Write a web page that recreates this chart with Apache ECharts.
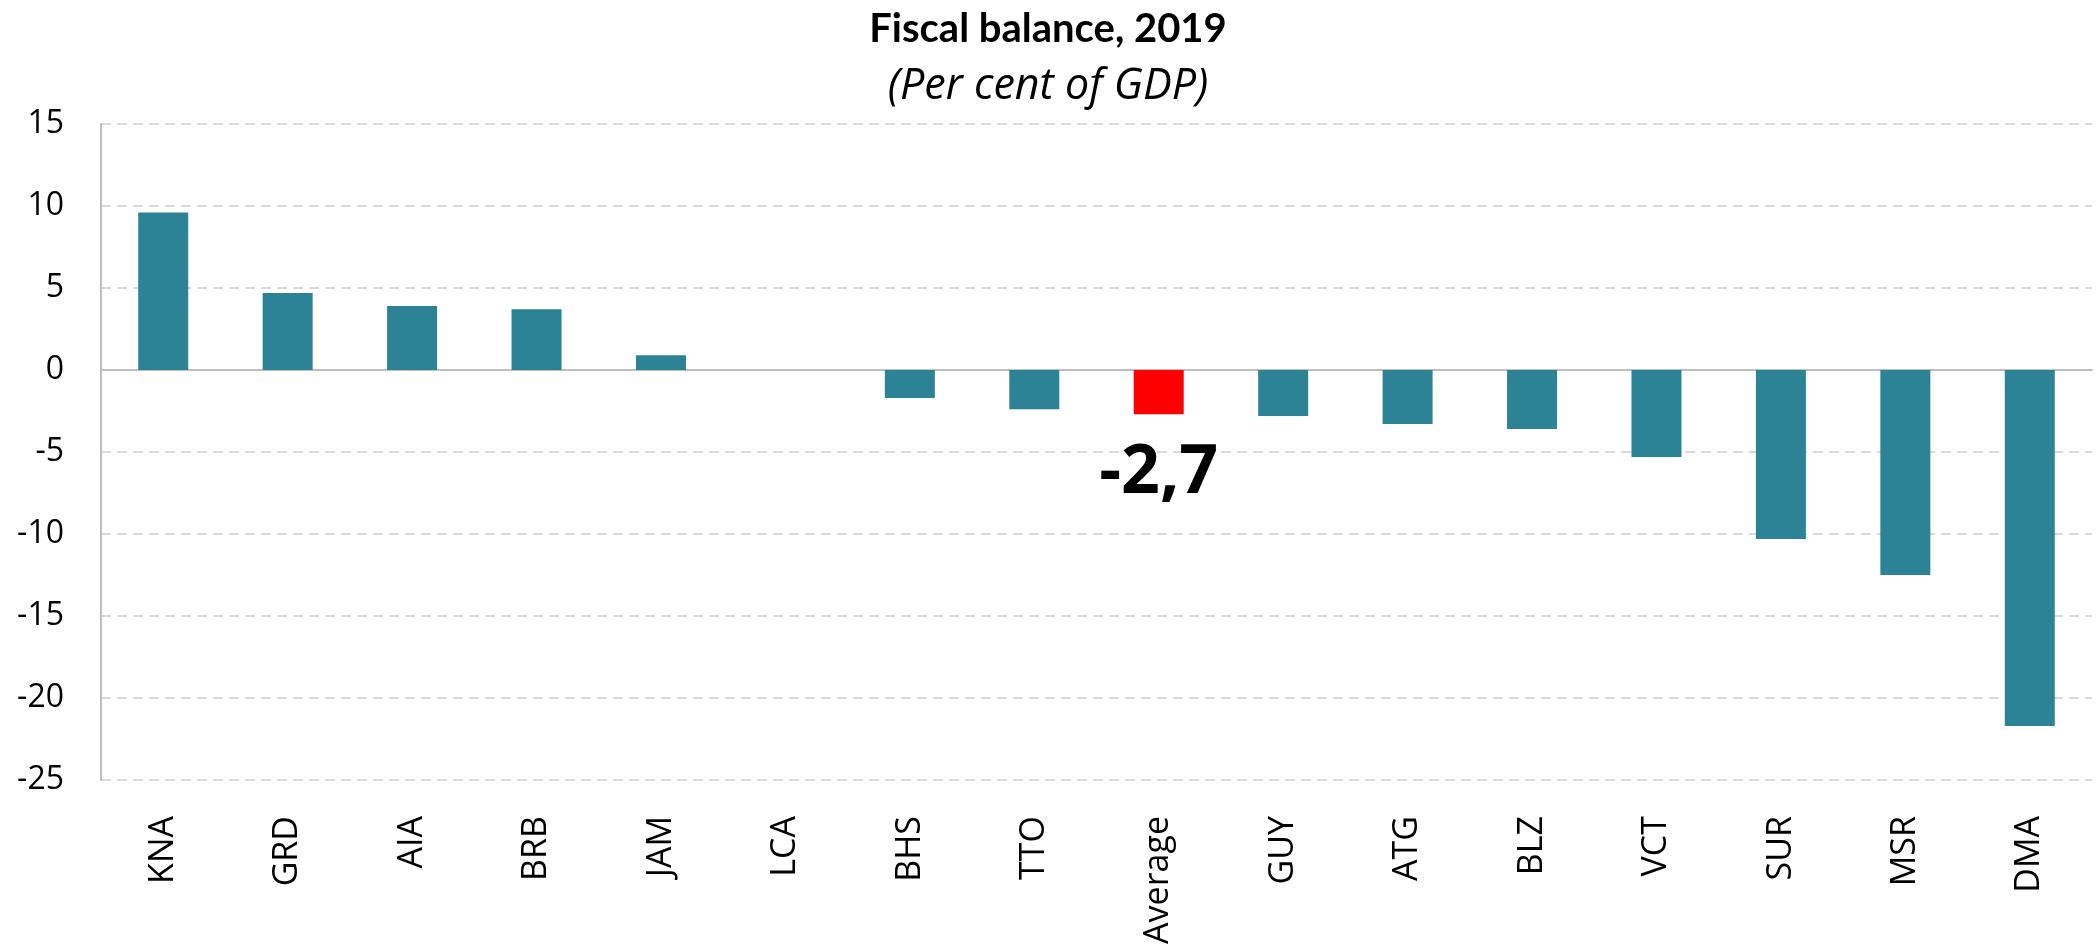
<!DOCTYPE html>
<html>
<head>
<meta charset="utf-8">
<script src="https://cdn.jsdelivr.net/npm/echarts@6/dist/echarts.min.js"></script>
<style>
  html, body { margin: 0; padding: 0; background: #fff; }
  #chart { width: 2096px; height: 948px; }
</style>
</head>
<body>
<div id="chart"></div>
<script>
// data
var countries = ['KNA', 'GRD', 'AIA', 'BRB', 'JAM', 'LCA', 'BHS', 'TTO', 'Average', 'GUY', 'ATG', 'BLZ', 'VCT', 'SUR', 'MSR', 'DMA'];
var balance = [9.6, 4.7, 3.9, 3.7, 0.9, 0, -1.7, -2.4, -2.7, -2.8, -3.3, -3.6, -5.3, -10.3, -12.5, -21.7];
var averageName = 'Average';
var averageLabel = '-2,7';

var myChart = echarts.init(document.getElementById('chart'));

// colour the average bar red and put the big label under it
var barData = [];
for (var i = 0; i < countries.length; i++) {
    if (countries[i] == averageName) {
        barData.push({
            value: balance[i],
            itemStyle: { color: '#FF0000' },
            label: {
                show: true,
                position: 'bottom',
                distance: 25,
                formatter: averageLabel,
                fontFamily: 'Open Sans',
                fontWeight: 'bold',
                fontSize: 68,
                color: '#000'
            }
        });
    } else {
        barData.push(balance[i]);
    }
}

myChart.setOption({
    animation: false,
    title: [
        {
            text: 'Fiscal balance, 2019',
            left: 'center',
            top: 4,
            textStyle: { fontFamily: 'Lato', fontWeight: 'bold', fontSize: 40, color: '#000' }
        },
        {
            text: '(Per cent of GDP)',
            left: 'center',
            top: 60,
            textStyle: { fontFamily: 'Open Sans', fontStyle: 'italic', fontWeight: 'normal', fontSize: 43, color: '#000' }
        }
    ],
    grid: {
        left: 101,
        right: 4,
        top: 124,
        bottom: 168
    },
    xAxis: {
        type: 'category',
        data: countries,
        axisLine: { onZero: true, lineStyle: { color: '#BFBFBF', width: 2 } },
        axisTick: { show: false },
        axisLabel: {
            rotate: 90,
            interval: 0,
            margin: 36,
            fontFamily: 'Open Sans',
            fontSize: 34,
            color: '#000'
        }
    },
    yAxis: {
        type: 'value',
        min: -25,
        max: 15,
        interval: 5,
        axisLine: { show: true, lineStyle: { color: '#BFBFBF', width: 2 } },
        axisTick: { show: false },
        axisLabel: {
            margin: 37,
            fontFamily: 'Open Sans',
            fontSize: 32,
            color: '#000'
        },
        splitLine: { lineStyle: { color: '#D9D9D9', type: [10, 6], width: 2 } }
    },
    series: [
        {
            type: 'bar',
            data: barData,
            barWidth: 50,
            itemStyle: { color: '#2D8396' }
        }
    ]
});
</script>
</body>
</html>
